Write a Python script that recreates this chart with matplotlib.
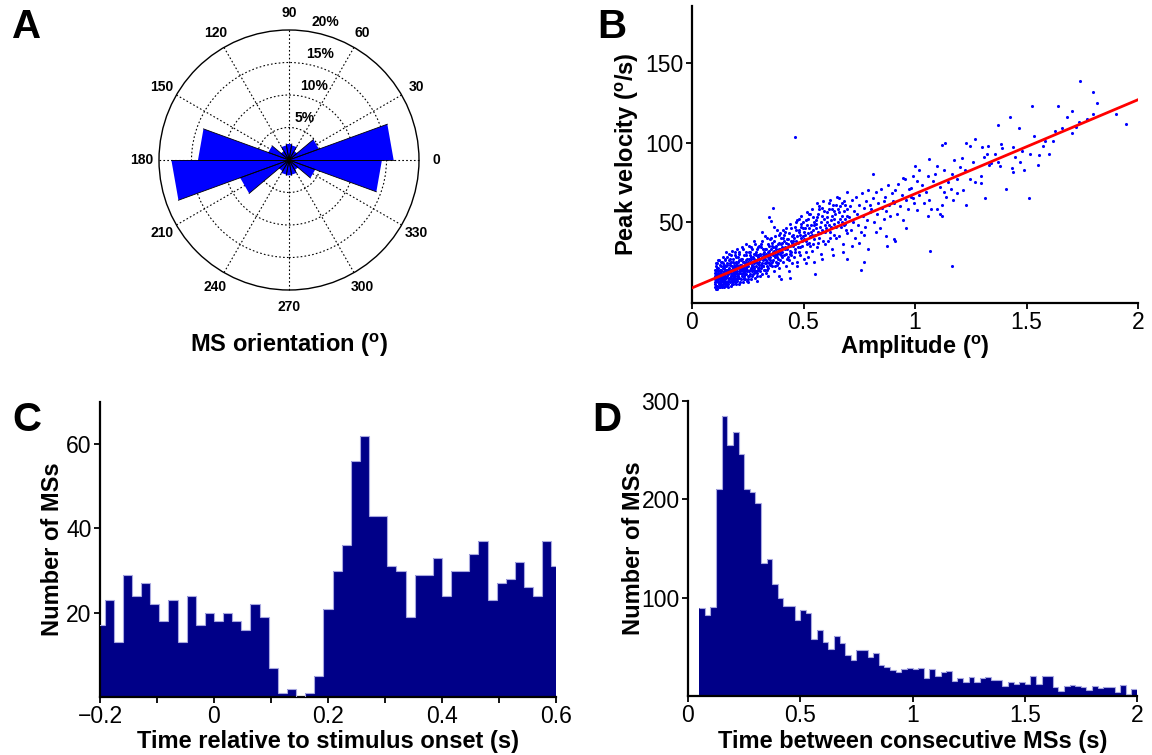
import numpy as np
import matplotlib
matplotlib.use('Agg')
import matplotlib.pyplot as plt
from matplotlib.patches import Polygon, Circle

plt.rcParams['font.family'] = ['Liberation Sans', 'DejaVu Sans']
plt.rcParams['mathtext.fontset'] = 'custom'
plt.rcParams['mathtext.rm'] = 'Liberation Sans'
plt.rcParams['mathtext.it'] = 'Liberation Sans'
plt.rcParams['mathtext.bf'] = 'Liberation Sans:bold'

#========================= Data ===============================================
# A: rose of MS orientation, 18 bins of 20 deg, percent of MSs
rose_edges_deg = np.arange(0, 361, 20)
rose_pct = [16.1, 4.9, 1.6, 2.3, 2.5, 2.3, 1.6, 3.4, 14.0,
            18.1, 8.0, 2.0, 2.3, 2.4, 2.3, 1.8, 4.3, 14.3]
rose_rings = [5, 10, 15, 20]
rose_ring_labels = ['5%', '10%', '15%', '20%']

# B: amplitude (deg) vs peak velocity (deg/s), main cloud
cloud = [
    (0.101, 9), (0.102, 12), (0.103, 15), (0.104, 18), (0.105, 11), (0.106, 22), (0.107, 14), (0.108, 8), (0.109, 17), (0.110, 20),
    (0.111, 13), (0.112, 10), (0.113, 16), (0.114, 24), (0.115, 19), (0.116, 12), (0.117, 14), (0.118, 21), (0.119, 9), (0.120, 17),
    (0.121, 15), (0.122, 11), (0.123, 26), (0.124, 18), (0.125, 13), (0.126, 20), (0.127, 16), (0.128, 10), (0.129, 22), (0.130, 14),
    (0.131, 19), (0.132, 12), (0.133, 17), (0.134, 25), (0.135, 15), (0.136, 9), (0.137, 21), (0.138, 13), (0.139, 18), (0.140, 16),
    (0.141, 11), (0.142, 23), (0.143, 14), (0.144, 19), (0.145, 12), (0.146, 27), (0.147, 17), (0.148, 10), (0.149, 20), (0.150, 15),
    (0.104, 14), (0.112, 16), (0.118, 13), (0.124, 11), (0.131, 16), (0.137, 17), (0.143, 22), (0.147, 13), (0.108, 19), (0.115, 15),
    (0.102, 16), (0.106, 10), (0.109, 13), (0.113, 21), (0.117, 18), (0.121, 9), (0.125, 23), (0.128, 15), (0.132, 20), (0.136, 13),
    (0.139, 24), (0.142, 16), (0.145, 21), (0.149, 11), (0.103, 20), (0.107, 24), (0.111, 8), (0.116, 26), (0.120, 12), (0.126, 9),
    (0.130, 25), (0.134, 10), (0.138, 28), (0.144, 9), (0.148, 26),
    (0.151, 18), (0.152, 12), (0.153, 22), (0.154, 15), (0.155, 28), (0.156, 10), (0.157, 19), (0.158, 16), (0.159, 24), (0.160, 13),
    (0.161, 20), (0.162, 17), (0.163, 11), (0.164, 26), (0.165, 14), (0.166, 21), (0.167, 18), (0.168, 30), (0.169, 15), (0.170, 12),
    (0.171, 23), (0.172, 19), (0.173, 16), (0.174, 10), (0.175, 25), (0.176, 14), (0.177, 20), (0.178, 17), (0.179, 32), (0.180, 13),
    (0.181, 22), (0.182, 18), (0.183, 15), (0.184, 27), (0.185, 11), (0.186, 20), (0.187, 16), (0.188, 24), (0.189, 14), (0.190, 19),
    (0.191, 29), (0.192, 17), (0.193, 12), (0.194, 22), (0.195, 15), (0.196, 25), (0.197, 18), (0.198, 13), (0.199, 21), (0.200, 16),
    (0.158, 20), (0.166, 15), (0.174, 18), (0.183, 21), (0.192, 14), (0.197, 23),
    (0.152, 20), (0.156, 23), (0.159, 11), (0.163, 18), (0.167, 13), (0.171, 27), (0.175, 16), (0.178, 11), (0.182, 25), (0.186, 13),
    (0.189, 22), (0.193, 19), (0.196, 11), (0.199, 28), (0.154, 31), (0.161, 9), (0.169, 24), (0.177, 29), (0.185, 17), (0.194, 31),
    (0.201, 19), (0.203, 24), (0.204, 13), (0.206, 28), (0.207, 17), (0.209, 21), (0.210, 11), (0.212, 31), (0.213, 15), (0.215, 23),
    (0.216, 19), (0.218, 26), (0.219, 14), (0.221, 20), (0.222, 34), (0.224, 17), (0.225, 22), (0.227, 12), (0.228, 25), (0.230, 18),
    (0.231, 29), (0.233, 16), (0.234, 21), (0.236, 24), (0.237, 14), (0.239, 19), (0.240, 36), (0.242, 22), (0.243, 17), (0.245, 27),
    (0.246, 13), (0.248, 20), (0.249, 24), (0.205, 16), (0.211, 22), (0.217, 18), (0.223, 27), (0.229, 21), (0.235, 15), (0.241, 26),
    (0.247, 19), (0.214, 20), (0.226, 16), (0.238, 23), (0.244, 31), (0.208, 25), (0.220, 23), (0.232, 19), (0.244, 21), (0.250, 16),
    (0.202, 14), (0.206, 22), (0.209, 30), (0.213, 18), (0.217, 12), (0.220, 27), (0.224, 21), (0.227, 33), (0.231, 14), (0.235, 25),
    (0.238, 17), (0.242, 29), (0.246, 22), (0.249, 12), (0.204, 33), (0.212, 26), (0.219, 23), (0.228, 19), (0.236, 20), (0.243, 24),
    (0.252, 22), (0.254, 27), (0.256, 16), (0.258, 31), (0.260, 20), (0.262, 25), (0.264, 14), (0.266, 34), (0.268, 23), (0.270, 19),
    (0.272, 28), (0.274, 17), (0.276, 38), (0.278, 24), (0.280, 21), (0.282, 30), (0.284, 15), (0.286, 26), (0.288, 22), (0.290, 33),
    (0.292, 18), (0.294, 28), (0.296, 24), (0.298, 20), (0.300, 35), (0.255, 19), (0.261, 29), (0.267, 21), (0.273, 25), (0.279, 18),
    (0.285, 29), (0.291, 24), (0.297, 27), (0.259, 24), (0.271, 22), (0.283, 26), (0.295, 21), (0.265, 27), (0.277, 20), (0.289, 19),
    (0.257, 35), (0.281, 36), (0.293, 13),
    (0.251, 25), (0.255, 31), (0.259, 17), (0.263, 28), (0.267, 16), (0.271, 33), (0.275, 22), (0.279, 27), (0.283, 19), (0.287, 31),
    (0.291, 16), (0.295, 34), (0.299, 23), (0.253, 14), (0.263, 21), (0.276, 30), (0.288, 25), (0.298, 29),
    (0.302, 25), (0.304, 30), (0.306, 19), (0.308, 34), (0.310, 23), (0.312, 28), (0.314, 17), (0.316, 38), (0.318, 26), (0.320, 22),
    (0.322, 31), (0.324, 20), (0.326, 41), (0.328, 27), (0.330, 24), (0.332, 33), (0.334, 18), (0.336, 29), (0.338, 25), (0.340, 36),
    (0.342, 21), (0.344, 30), (0.346, 27), (0.348, 23), (0.350, 39), (0.305, 27), (0.315, 24), (0.325, 29), (0.335, 22), (0.345, 32),
    (0.309, 21), (0.319, 30), (0.329, 20), (0.339, 28), (0.349, 26), (0.313, 44), (0.343, 16), (0.331, 30),
    (0.301, 21), (0.307, 29), (0.311, 36), (0.317, 22), (0.321, 27), (0.327, 33), (0.333, 26), (0.337, 20), (0.341, 31), (0.347, 35),
    (0.303, 16), (0.318, 33), (0.336, 40), (0.344, 24), (0.326, 24),
    (0.352, 28), (0.355, 33), (0.357, 22), (0.360, 37), (0.362, 26), (0.365, 31), (0.367, 19), (0.370, 41), (0.372, 29), (0.375, 25),
    (0.377, 35), (0.380, 23), (0.382, 45), (0.385, 31), (0.387, 27), (0.390, 37), (0.392, 21), (0.395, 33), (0.397, 29), (0.400, 40),
    (0.354, 30), (0.364, 34), (0.374, 28), (0.384, 36), (0.394, 26), (0.359, 25), (0.369, 32), (0.379, 30), (0.389, 33), (0.399, 31),
    (0.366, 47), (0.391, 16),
    (0.353, 24), (0.358, 35), (0.363, 29), (0.368, 38), (0.373, 22), (0.378, 33), (0.383, 28), (0.388, 42), (0.393, 30), (0.398, 36),
    (0.356, 40), (0.371, 34), (0.386, 24), (0.396, 43),
    (0.402, 31), (0.405, 37), (0.408, 25), (0.411, 42), (0.414, 29), (0.417, 34), (0.420, 22), (0.423, 46), (0.426, 33), (0.429, 28),
    (0.432, 39), (0.435, 26), (0.438, 49), (0.441, 35), (0.444, 31), (0.447, 41), (0.450, 24), (0.404, 34), (0.413, 38), (0.422, 30),
    (0.431, 36), (0.440, 32), (0.449, 37), (0.418, 44), (0.436, 19), (0.446, 29),
    (0.403, 28), (0.409, 40), (0.415, 33), (0.421, 37), (0.427, 27), (0.433, 43), (0.439, 30), (0.445, 38), (0.407, 45), (0.425, 39),
    (0.443, 46),
    (0.452, 35), (0.455, 42), (0.458, 28), (0.461, 47), (0.464, 33), (0.467, 38), (0.470, 25), (0.473, 51), (0.476, 37), (0.479, 31),
    (0.482, 44), (0.485, 29), (0.488, 54), (0.491, 40), (0.494, 35), (0.497, 46), (0.500, 27), (0.457, 40), (0.466, 45), (0.475, 34),
    (0.484, 42), (0.493, 38), (0.499, 50), (0.471, 22), (0.487, 47),
    (0.454, 38), (0.460, 31), (0.465, 50), (0.472, 41), (0.478, 45), (0.483, 34), (0.490, 49), (0.496, 41), (0.462, 36), (0.480, 52),
    (0.503, 39), (0.506, 46), (0.509, 31), (0.512, 51), (0.515, 36), (0.518, 43), (0.521, 28), (0.524, 55), (0.527, 41), (0.530, 35),
    (0.533, 48), (0.536, 32), (0.539, 58), (0.542, 45), (0.545, 39), (0.548, 50), (0.508, 42), (0.517, 48), (0.526, 37), (0.535, 44),
    (0.544, 53), (0.549, 25), (0.513, 24),
    (0.504, 44), (0.511, 38), (0.519, 52), (0.525, 46), (0.531, 55), (0.538, 42), (0.546, 48), (0.514, 56), (0.541, 36),
    (0.553, 42), (0.557, 49), (0.561, 34), (0.565, 55), (0.569, 40), (0.573, 47), (0.577, 30), (0.581, 59), (0.585, 45), (0.589, 38),
    (0.593, 52), (0.597, 36), (0.555, 51), (0.563, 44), (0.571, 58), (0.579, 50), (0.587, 63), (0.595, 48), (0.583, 27), (0.559, 62),
    (0.554, 46), (0.562, 53), (0.568, 60), (0.575, 43), (0.582, 54), (0.591, 57), (0.598, 44), (0.566, 37),
    (0.603, 46), (0.607, 53), (0.611, 38), (0.615, 58), (0.619, 44), (0.623, 51), (0.627, 33), (0.631, 61), (0.635, 49), (0.639, 42),
    (0.643, 55), (0.647, 40), (0.605, 56), (0.613, 48), (0.621, 64), (0.629, 54), (0.637, 57), (0.645, 47), (0.633, 29), (0.649, 66),
    (0.606, 50), (0.614, 62), (0.622, 47), (0.630, 58), (0.638, 52), (0.646, 61), (0.617, 40),
    (0.653, 50), (0.657, 56), (0.661, 41), (0.665, 60), (0.669, 47), (0.673, 54), (0.677, 36), (0.681, 63), (0.685, 52), (0.689, 45),
    (0.693, 58), (0.697, 43), (0.659, 65), (0.671, 50), (0.683, 57), (0.695, 69), (0.675, 31), (0.687, 49),
    (0.655, 58), (0.663, 52), (0.672, 62), (0.680, 48), (0.688, 61), (0.696, 54),
    (0.704, 53), (0.708, 60), (0.713, 45), (0.718, 64), (0.722, 50), (0.727, 57), (0.732, 40), (0.737, 66), (0.742, 55), (0.746, 48),
    (0.751, 61), (0.756, 44), (0.761, 68), (0.766, 54), (0.771, 59), (0.776, 47), (0.781, 63), (0.786, 51), (0.791, 70), (0.796, 56),
    (0.716, 35), (0.748, 37), (0.773, 42), (0.799, 61),
    (0.804, 58), (0.811, 65), (0.817, 50), (0.823, 69), (0.829, 55), (0.835, 62), (0.841, 46), (0.847, 71), (0.853, 59), (0.859, 52),
    (0.865, 66), (0.871, 57), (0.877, 73), (0.883, 61), (0.889, 54), (0.895, 68), (0.826, 44), (0.862, 63),
    (0.905, 62), (0.912, 70), (0.919, 55), (0.926, 74), (0.933, 60), (0.940, 67), (0.947, 51), (0.954, 77), (0.961, 64), (0.968, 58),
    (0.975, 71), (0.982, 66), (0.989, 79), (0.996, 62), (0.958, 46),
]
# B: sparse points away from the cloud
sparse = [
    (1.74, 139), (1.80, 132), (1.815, 125), (1.523, 123), (1.64, 123), (1.705, 120), (1.68, 116), (1.736, 113),
    (1.80, 118), (1.946, 112), (1.425, 116), (1.37, 111), (1.465, 109), (1.63, 107), (1.535, 104), (1.705, 106),
    (1.585, 101), (1.62, 101), (1.23, 100), (1.27, 102), (1.30, 97), (1.326, 98), (1.385, 99), (1.39, 96.5),
    (1.44, 97.5), (1.575, 98), (1.515, 93), (1.555, 92), (1.60, 93), (1.45, 91), (1.47, 88), (1.325, 93),
    (1.31, 91), (1.34, 87), (1.38, 85), (1.37, 87.5), (1.435, 84), (1.44, 81.6), (1.245, 97.6), (1.12, 98.6),
    (1.135, 99.5), (1.175, 89), (1.065, 89.6), (1.0, 85), (1.097, 85), (1.13, 83), (1.168, 80), (1.2, 84.7),
    (1.225, 83), (1.247, 77), (1.268, 75), (1.294, 79), (1.297, 74.7), (1.315, 65), (1.23, 61), (1.17, 64),
    (1.215, 70), (1.187, 68), (1.41, 71), (1.51, 65), (1.067, 31.7), (1.168, 22.6), (0.81, 80), (1.065, 64),
    (1.097, 58), (1.113, 55), (1.058, 54), (1.01, 57.4), (0.99, 65), (1.017, 83), (0.947, 78), (0.98, 71.7),
    (0.9, 63), (0.91, 38), (0.905, 39), (0.87, 41), (0.875, 35), (0.76, 19.5), (0.77, 25), (0.79, 32.7),
    (0.695, 26.7), (0.55, 17), (0.463, 103.7), (0.363, 59), (0.347, 53), (0.355, 50.6), (0.40, 13.8), (0.44, 15),
    (1.03, 73), (1.05, 69), (1.08, 76), (1.11, 72), (1.14, 66), (1.04, 62), (1.09, 80), (1.12, 61),
    (1.02, 67), (1.06, 79), (1.15, 75), (1.01, 76), (1.13, 69), (1.07, 58), (1.16, 71), (1.19, 77),
    (1.21, 90), (1.26, 88), (1.33, 86), (1.36, 93), (1.48, 95), (1.49, 83), (1.55, 86), (1.66, 109),
    (1.72, 110), (1.77, 115), (1.9, 118), (1.12, 54),
]
fit_amp = [0.0, 2.0]
fit_vel = [8.5, 127.0]

# C: MSs relative to stimulus onset, bins of 16 ms
c_bin_start = -0.208
c_bin_width = 0.016
c_counts = [17, 23, 13, 29, 24, 27, 22, 18, 23, 13, 24, 17, 20, 18, 20, 18, 16, 22, 19, 7,
            1, 2, 0, 1, 5, 21, 30, 36, 56, 62, 43, 43, 31, 30, 19, 29, 29, 33, 24, 30,
            30, 34, 37, 23, 27, 28, 32, 26, 24, 37, 31]

# D: inter-MS intervals, bins of 25 ms starting at 50 ms
d_bin_start = 0.05
d_bin_width = 0.025
d_counts = [89, 82, 91, 211, 285, 255, 268, 246, 211, 207, 196, 135, 139, 114, 100, 92, 92, 77, 87, 84,
            58, 67, 55, 48, 61, 54, 42, 37, 47, 47, 40, 44, 32, 29, 26, 24, 27, 28, 27, 28,
            18, 27, 20, 24, 25, 15, 18, 14, 19, 14, 18, 19, 16, 16, 10, 14, 12, 14, 12, 20,
            12, 20, 20, 9, 5, 10, 11, 10, 9, 6, 10, 8, 9, 9, 4, 11, 2, 7]

#========================= Figure =============================================
W, H = 1152, 755
fig = plt.figure(figsize=(W / 100, H / 100), dpi=100)

def px_axes(left, top, right, bottom):
    return fig.add_axes([left / W, 1 - bottom / H, (right - left) / W, (bottom - top) / H])

bar_col = '#000088'
edge_col = '#a8a8e0'
tick_fs = 16.5
lab_fs = 17

def style(ax):
    for s in ['top', 'right']:
        ax.spines[s].set_visible(False)
    for s in ['left', 'bottom']:
        ax.spines[s].set_linewidth(1.6)
    ax.tick_params(direction='out', length=4, width=1.3, labelsize=tick_fs, pad=2)

#---- A: rose -----------------------------------------------------------------
R = rose_rings[-1]
axA = px_axes(289 - 169, 160 - 169, 289 + 169, 160 + 169)
axA.set_xlim(-26, 26)
axA.set_ylim(-26, 26)
axA.set_aspect('equal')
axA.axis('off')

for r in rose_rings[:-1]:
    axA.add_patch(Circle((0, 0), r, fill=False, ls=(0, (1.5, 2)), lw=0.8, color='k', zorder=1))
axA.add_patch(Circle((0, 0), R, fill=False, lw=1.0, color='k', zorder=1))
for ang in range(0, 360, 30):
    t = np.deg2rad(ang)
    axA.plot([0, R * np.cos(t)], [0, R * np.sin(t)], ls=(0, (1.5, 2)), lw=0.8, color='k', zorder=1)
    axA.text(1.13 * R * np.cos(t), 1.13 * R * np.sin(t), str(ang), ha='center', va='center',
             fontsize=10, fontweight='bold')

th = np.deg2rad(rose_edges_deg)
for i, r in enumerate(rose_pct):
    p1 = (r * np.cos(th[i]), r * np.sin(th[i]))
    p2 = (r * np.cos(th[i + 1]), r * np.sin(th[i + 1]))
    axA.add_patch(Polygon([(0, 0), p1, p2], closed=True, facecolor='#0000FF', edgecolor='none', zorder=2))
    axA.plot([0, p1[0]], [0, p1[1]], color='k', lw=0.6, zorder=3)
    axA.plot([0, p2[0]], [0, p2[1]], color='k', lw=0.6, zorder=3)

t80 = np.deg2rad(80)
for r, lab in zip(rose_rings, rose_ring_labels):
    axA.text(r * np.cos(t80), r * np.sin(t80) + 0.4, lab, ha='left', va='bottom',
             fontsize=10, fontweight='bold')

fig.text(289 / W, 1 - 345 / H, r'MS orientation ($^{\mathbf{o}}$)', ha='center', va='center',
         fontsize=lab_fs, fontweight='bold')

#---- B: main sequence --------------------------------------------------------
axB = px_axes(692, 6, 1138, 303)
pts = np.array(cloud + sparse)
axB.scatter(pts[:, 0], pts[:, 1], s=5, c='#0000FF', linewidths=0, zorder=2)
axB.plot(fit_amp, fit_vel, color='#FF0000', lw=2, zorder=3)
axB.set_xlim(0, 2)
axB.set_ylim(-1, 186)
axB.set_xticks([0, 0.5, 1, 1.5, 2])
axB.set_xticklabels(['0', '0.5', '1', '1.5', '2'])
axB.set_yticks([50, 100, 150])
style(axB)
axB.set_xlabel(r'Amplitude ($^{\mathbf{o}}$)', fontsize=lab_fs, fontweight='bold')
axB.set_ylabel(r'Peak velocity ($^{\mathbf{o}}$/s)', fontsize=lab_fs, fontweight='bold')
axB.xaxis.set_label_coords(0.5, -0.105)
axB.yaxis.set_label_coords(-0.114, 0.5)

#---- C: MS rate around stimulus onset ---------------------------------------
axC = px_axes(100, 402, 556, 697)
c_edges = c_bin_start + c_bin_width * np.arange(len(c_counts) + 1)
axC.stairs(c_counts, c_edges, fill=True, color=bar_col, zorder=2)
axC.stairs(c_counts, c_edges, color=edge_col, lw=0.8, baseline=None, zorder=3)
axC.set_xlim(-0.2, 0.6)
axC.set_ylim(0, 70)
axC.set_xticks(np.round(np.arange(-0.2, 0.61, 0.1), 2))
axC.set_xticklabels(['\u22120.2', '', '0', '', '0.2', '', '0.4', '', '0.6'])
axC.set_yticks([20, 40, 60])
style(axC)
axC.set_xlabel('Time relative to stimulus onset (s)', fontsize=lab_fs, fontweight='bold')
axC.set_ylabel('Number of MSs', fontsize=lab_fs, fontweight='bold')
axC.xaxis.set_label_coords(0.5, -0.112)
axC.yaxis.set_label_coords(-0.08, 0.5)

#---- D: inter-MS intervals ---------------------------------------------------
axD = px_axes(688, 401, 1137, 696)
d_edges = d_bin_start + d_bin_width * np.arange(len(d_counts) + 1)
axD.stairs(d_counts, d_edges, fill=True, color=bar_col, zorder=2)
axD.stairs(d_counts, d_edges, color=edge_col, lw=0.8, baseline=None, zorder=3)
axD.set_xlim(0, 2)
axD.set_ylim(0, 300)
axD.set_xticks([0, 0.5, 1, 1.5, 2])
axD.set_xticklabels(['0', '0.5', '1', '1.5', '2'])
axD.set_yticks([100, 200, 300])
style(axD)
axD.set_xlabel('Time between consecutive MSs (s)', fontsize=lab_fs, fontweight='bold')
axD.set_ylabel('Number of MSs', fontsize=lab_fs, fontweight='bold')
axD.xaxis.set_label_coords(0.5, -0.115)
axD.yaxis.set_label_coords(-0.096, 0.5)

#---- panel letters -----------------------------------------------------------
for lab, x, y in [('A', 27, 27), ('B', 612, 27), ('C', 27, 420), ('D', 607, 420)]:
    fig.text(x / W, 1 - y / H, lab, ha='center', va='center', fontsize=29, fontweight='bold')

fig.savefig('out.png', dpi=100, facecolor='white')
